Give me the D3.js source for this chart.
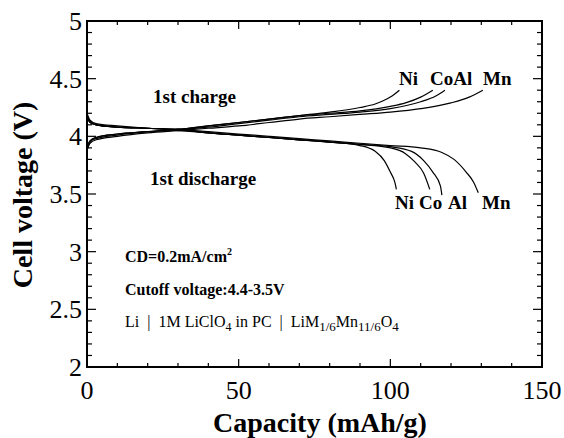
<!DOCTYPE html>
<html>
<head>
<meta charset="utf-8">
<script src="https://cdn.jsdelivr.net/npm/d3@7"></script>
<style>
  body { margin: 0; background: #fff; }
  text { font-family: "Liberation Serif", "Times New Roman", serif; fill: #000; }
  .bold { font-weight: bold; }
</style>
</head>
<body>
<div id="chart"></div>
<script>
// capacity (mAh/g) and voltage (V)
var chargeNi = [[0,3.89],[1,3.95],[3,3.98],[10,4.01],[20,4.04],[30,4.06],[40,4.09],[50,4.12],[60,4.15],[70,4.18],[80,4.21],[90,4.25],[95,4.28],[100,4.34],[103,4.40]];
var chargeCo = [[0,3.90],[1,3.96],[3,3.99],[10,4.02],[20,4.04],[30,4.06],[40,4.09],[50,4.12],[60,4.15],[70,4.18],[80,4.20],[90,4.22],[100,4.26],[105,4.29],[110,4.34],[114,4.40]];
var chargeAl = [[0,3.91],[1,3.96],[3,3.99],[10,4.02],[20,4.04],[30,4.06],[40,4.08],[50,4.11],[60,4.14],[70,4.17],[80,4.19],[90,4.21],[100,4.24],[110,4.30],[115,4.35],[118,4.40]];
var chargeMn = [[0,3.88],[1,3.94],[3,3.97],[10,4.00],[20,4.03],[30,4.05],[40,4.07],[50,4.09],[60,4.12],[70,4.15],[80,4.17],[90,4.19],[100,4.21],[110,4.24],[120,4.29],[126,4.34],[130.5,4.40]];

var dischargeNi = [[0,4.20],[1,4.14],[3,4.11],[10,4.09],[20,4.07],[30,4.06],[40,4.03],[50,4.01],[60,3.99],[70,3.97],[80,3.95],[90,3.92],[95,3.87],[98,3.79],[100,3.69],[101.5,3.60],[102,3.54]];
var dischargeCo = [[0,4.18],[1,4.13],[3,4.10],[10,4.08],[20,4.07],[30,4.06],[40,4.03],[50,4.01],[60,3.99],[70,3.97],[80,3.95],[90,3.93],[100,3.90],[105,3.85],[108,3.78],[111,3.68],[113,3.54]];
var dischargeAl = [[0,4.17],[1,4.12],[3,4.10],[10,4.08],[20,4.07],[30,4.05],[40,4.03],[50,4.01],[60,3.99],[70,3.97],[80,3.95],[90,3.93],[100,3.91],[107,3.87],[111,3.79],[114,3.69],[116.5,3.57],[117,3.49]];
var dischargeMn = [[0,4.16],[1,4.12],[3,4.10],[10,4.08],[20,4.07],[30,4.06],[40,4.04],[50,4.02],[60,4.00],[70,3.98],[80,3.96],[90,3.94],[100,3.92],[110,3.90],[117,3.86],[121,3.80],[125,3.69],[127.5,3.60],[129,3.51]];

var curves = [chargeNi, chargeCo, chargeAl, chargeMn, dischargeNi, dischargeCo, dischargeAl, dischargeMn];

var xTicks = [0, 50, 100, 150];
var yTicks = [2, 2.5, 3, 3.5, 4, 4.5, 5];

var width = 564, height = 438;
var margin = { left: 87, right: 22, top: 21, bottom: 71 };

var svg = d3.select("#chart").append("svg")
  .attr("width", width)
  .attr("height", height);

var x = d3.scaleLinear().domain([0, 150]).range([margin.left, width - margin.right]);
var y = d3.scaleLinear().domain([2, 5]).range([height - margin.bottom, margin.top]);

// tick marks on all four sides, pointing inward
var xMinor = d3.range(0, 151, 10);
var yMinor = d3.range(20, 51, 1).map(function(d) { return d / 10; });

function isMajorX(d) { return d % 50 === 0; }
function isMajorY(d) { return Math.abs(d * 2 - Math.round(d * 2)) < 1e-6; }

var ticks = svg.append("g").attr("stroke", "#000").attr("stroke-width", 1.2);

ticks.selectAll(".xb").data(xMinor).enter().append("line")
  .attr("x1", function(d) { return x(d); }).attr("x2", function(d) { return x(d); })
  .attr("y1", y(2)).attr("y2", function(d) { return y(2) - (isMajorX(d) ? 8 : 4); });
ticks.selectAll(".xt").data(xMinor).enter().append("line")
  .attr("x1", function(d) { return x(d); }).attr("x2", function(d) { return x(d); })
  .attr("y1", y(5)).attr("y2", function(d) { return y(5) + (isMajorX(d) ? 8 : 4); });
ticks.selectAll(".yl").data(yMinor).enter().append("line")
  .attr("y1", function(d) { return y(d); }).attr("y2", function(d) { return y(d); })
  .attr("x1", x(0)).attr("x2", function(d) { return x(0) + (isMajorY(d) ? 9 : 5); });
ticks.selectAll(".yr").data(yMinor).enter().append("line")
  .attr("y1", function(d) { return y(d); }).attr("y2", function(d) { return y(d); })
  .attr("x1", x(150)).attr("x2", function(d) { return x(150) - (isMajorY(d) ? 9 : 5); });

// frame
svg.append("rect")
  .attr("x", x(0)).attr("y", y(5))
  .attr("width", x(150) - x(0)).attr("height", y(2) - y(5))
  .attr("fill", "none").attr("stroke", "#000").attr("stroke-width", 2);

// tick labels
svg.selectAll(".xlab").data(xTicks).enter().append("text")
  .attr("x", function(d) { return x(d); })
  .attr("y", y(2) + 32)
  .attr("text-anchor", "middle")
  .attr("font-size", 26)
  .text(function(d) { return d; });

svg.selectAll(".ylab").data(yTicks).enter().append("text")
  .attr("x", x(0) - 5)
  .attr("y", function(d) { return y(d) + 9; })
  .attr("text-anchor", "end")
  .attr("font-size", 26)
  .text(function(d) { return d; });

// axis titles
svg.append("text")
  .attr("class", "bold")
  .attr("x", 320)
  .attr("y", 432)
  .attr("text-anchor", "middle")
  .attr("font-size", 28)
  .text("Capacity (mAh/g)");

svg.append("text")
  .attr("class", "bold")
  .attr("transform", "translate(32,195) rotate(-90)")
  .attr("text-anchor", "middle")
  .attr("font-size", 28)
  .text("Cell voltage (V)");

// curves
var line = d3.line()
  .x(function(d) { return x(d[0]); })
  .y(function(d) { return y(d[1]); })
  .curve(d3.curveMonotoneX);

svg.append("g").selectAll("path").data(curves).enter().append("path")
  .attr("d", line)
  .attr("fill", "none")
  .attr("stroke", "#000")
  .attr("stroke-width", 1.2);

// annotations
function label(txt, px, py, size, bold, anchor) {
  return svg.append("text")
    .attr("class", bold ? "bold" : null)
    .attr("x", px).attr("y", py)
    .attr("font-size", size)
    .attr("text-anchor", anchor || "start")
    .text(txt);
}

label("1st charge", 153, 103, 19, true);
label("1st discharge", 150, 185, 19, true);

label("Ni", 399, 85, 19, true);
label("CoAl", 430, 85, 19, true);
label("Mn", 483, 85, 19, true);

label("Ni", 395, 209, 19, true);
label("Co", 419, 209, 19, true);
label("Al", 448, 209, 19, true);
label("Mn", 482, 209, 19, true);

var cd = label("CD=0.2mA/cm", 125, 262, 16, true);
cd.append("tspan").attr("dy", -7).attr("font-size", 10).text("2");

label("Cutoff voltage:4.4-3.5V", 125, 295, 16, true);

var cell = svg.append("text")
  .attr("x", 125).attr("y", 327)
  .attr("font-size", 16)
  .attr("xml:space", "preserve");
cell.append("tspan").text("Li  |  1M LiClO");
cell.append("tspan").attr("dy", 4).attr("font-size", 12).text("4");
cell.append("tspan").attr("dy", -4).text(" in PC  |  LiM");
cell.append("tspan").attr("dy", 4).attr("font-size", 13).text("1/6");
cell.append("tspan").attr("dy", -4).text("Mn");
cell.append("tspan").attr("dy", 4).attr("font-size", 13).text("11/6");
cell.append("tspan").attr("dy", -4).text("O");
cell.append("tspan").attr("dy", 4).attr("font-size", 13).text("4");
</script>
</body>
</html>
